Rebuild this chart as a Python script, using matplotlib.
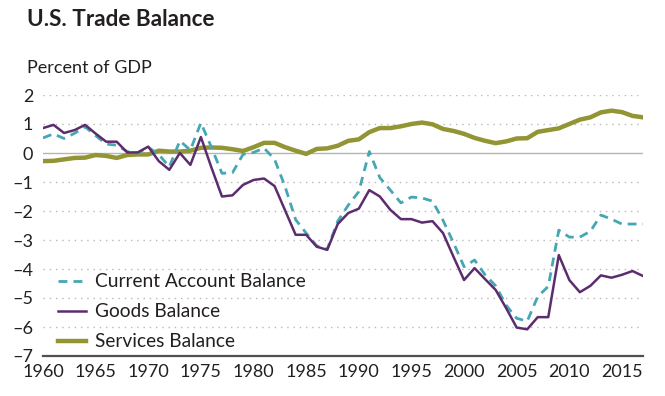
import numpy as np
import matplotlib
matplotlib.use("Agg")
import matplotlib.pyplot as plt

plt.rcParams['font.family'] = ['Lato', 'DejaVu Sans']

years = list(range(1960, 2018))

# percent of GDP
current_account = [0.52, 0.66, 0.50, 0.68, 0.90, 0.60, 0.31, 0.27, 0.05, 0.00,
                   0.20, -0.05, -0.48, 0.42, 0.10, 1.04, 0.20, -0.70, -0.68, -0.05,
                   0.02, 0.17, -0.22, -1.16, -2.30, -2.76, -3.20, -3.32, -2.35, -1.80,
                   -1.33, 0.05, -0.85, -1.28, -1.72, -1.52, -1.55, -1.66, -2.32, -3.10,
                   -3.92, -3.69, -4.20, -4.58, -5.25, -5.70, -5.80, -4.95, -4.60, -2.66,
                   -2.90, -2.90, -2.70, -2.14, -2.28, -2.45, -2.45, -2.45]
goods = [0.86, 0.97, 0.69, 0.79, 0.97, 0.67, 0.39, 0.39, 0.02, 0.02,
         0.22, -0.28, -0.58, 0.00, -0.41, 0.55, -0.50, -1.50, -1.46, -1.10,
         -0.93, -0.88, -1.14, -1.98, -2.82, -2.82, -3.23, -3.34, -2.45, -2.07,
         -1.92, -1.28, -1.50, -1.96, -2.28, -2.28, -2.40, -2.35, -2.76, -3.58,
         -4.38, -3.97, -4.35, -4.72, -5.35, -6.02, -6.08, -5.66, -5.66, -3.52,
         -4.38, -4.80, -4.58, -4.22, -4.30, -4.20, -4.07, -4.24]
services = [-0.28, -0.27, -0.22, -0.17, -0.16, -0.07, -0.10, -0.17, -0.07, -0.05,
            -0.05, 0.08, 0.05, 0.05, 0.08, 0.18, 0.19, 0.18, 0.13, 0.07,
            0.20, 0.35, 0.35, 0.20, 0.08, -0.03, 0.14, 0.16, 0.25, 0.42,
            0.47, 0.72, 0.86, 0.86, 0.92, 1.00, 1.05, 0.99, 0.83, 0.76,
            0.66, 0.52, 0.42, 0.34, 0.40, 0.50, 0.51, 0.73, 0.79, 0.85,
            1.00, 1.15, 1.23, 1.40, 1.46, 1.41, 1.28, 1.23]

teal = '#45a7b3'
purple = '#5c2d6e'
olive = '#939434'
ink = '#231f20'

fig = plt.figure(figsize=(6.65, 3.96), dpi=100)
ax = fig.add_axes([43/665, 40/396, 600/665, 261/396])

for v in range(-6, 3):
    if v == 0:
        ax.axhline(0, color='#b5b5b5', lw=1.0, zorder=1)
    else:
        ax.axhline(v, color='#b8b8b8', lw=1.0, ls=(0, (1, 3.5)), zorder=1)

ax.plot(years, current_account, color=teal, lw=2.0, ls=(0, (3.2, 2.2)),
        label='Current Account Balance', zorder=3)
ax.plot(years, goods, color=purple, lw=1.8, label='Goods Balance', zorder=4)
ax.plot(years, services, color=olive, lw=3.2, label='Services Balance', zorder=2)

ax.set_xlim(1960, 2017)
ax.set_ylim(-7, 2)
ax.set_xticks(range(1960, 2016, 5))
ax.set_yticks(range(-7, 3))
ax.set_yticklabels(['\u2013' + str(-v) if v < 0 else str(v) for v in range(-7, 3)])

for s in ['top', 'right', 'left']:
    ax.spines[s].set_visible(False)
ax.spines['bottom'].set_color('#505050')
ax.spines['bottom'].set_linewidth(1.6)
ax.tick_params(axis='both', length=0, labelsize=13, colors=ink)
ax.tick_params(axis='y', pad=7)
ax.tick_params(axis='x', pad=6)

leg = ax.legend(loc='lower left', bbox_to_anchor=(0.013, -0.008), frameon=False,
                fontsize=13.8, handlelength=1.45, handletextpad=0.45,
                labelspacing=0.68, borderaxespad=0)
for t in leg.get_texts():
    t.set_color(ink)

fig.text(27/665, 1 - 19/396, 'U.S. Trade Balance', fontsize=16.2, fontweight='bold',
         color=ink, va='center', ha='left')
fig.text(27/665, 1 - 68/396, 'Percent of GDP', fontsize=13, color=ink,
         va='center', ha='left')

fig.savefig('out.png', dpi=100)
